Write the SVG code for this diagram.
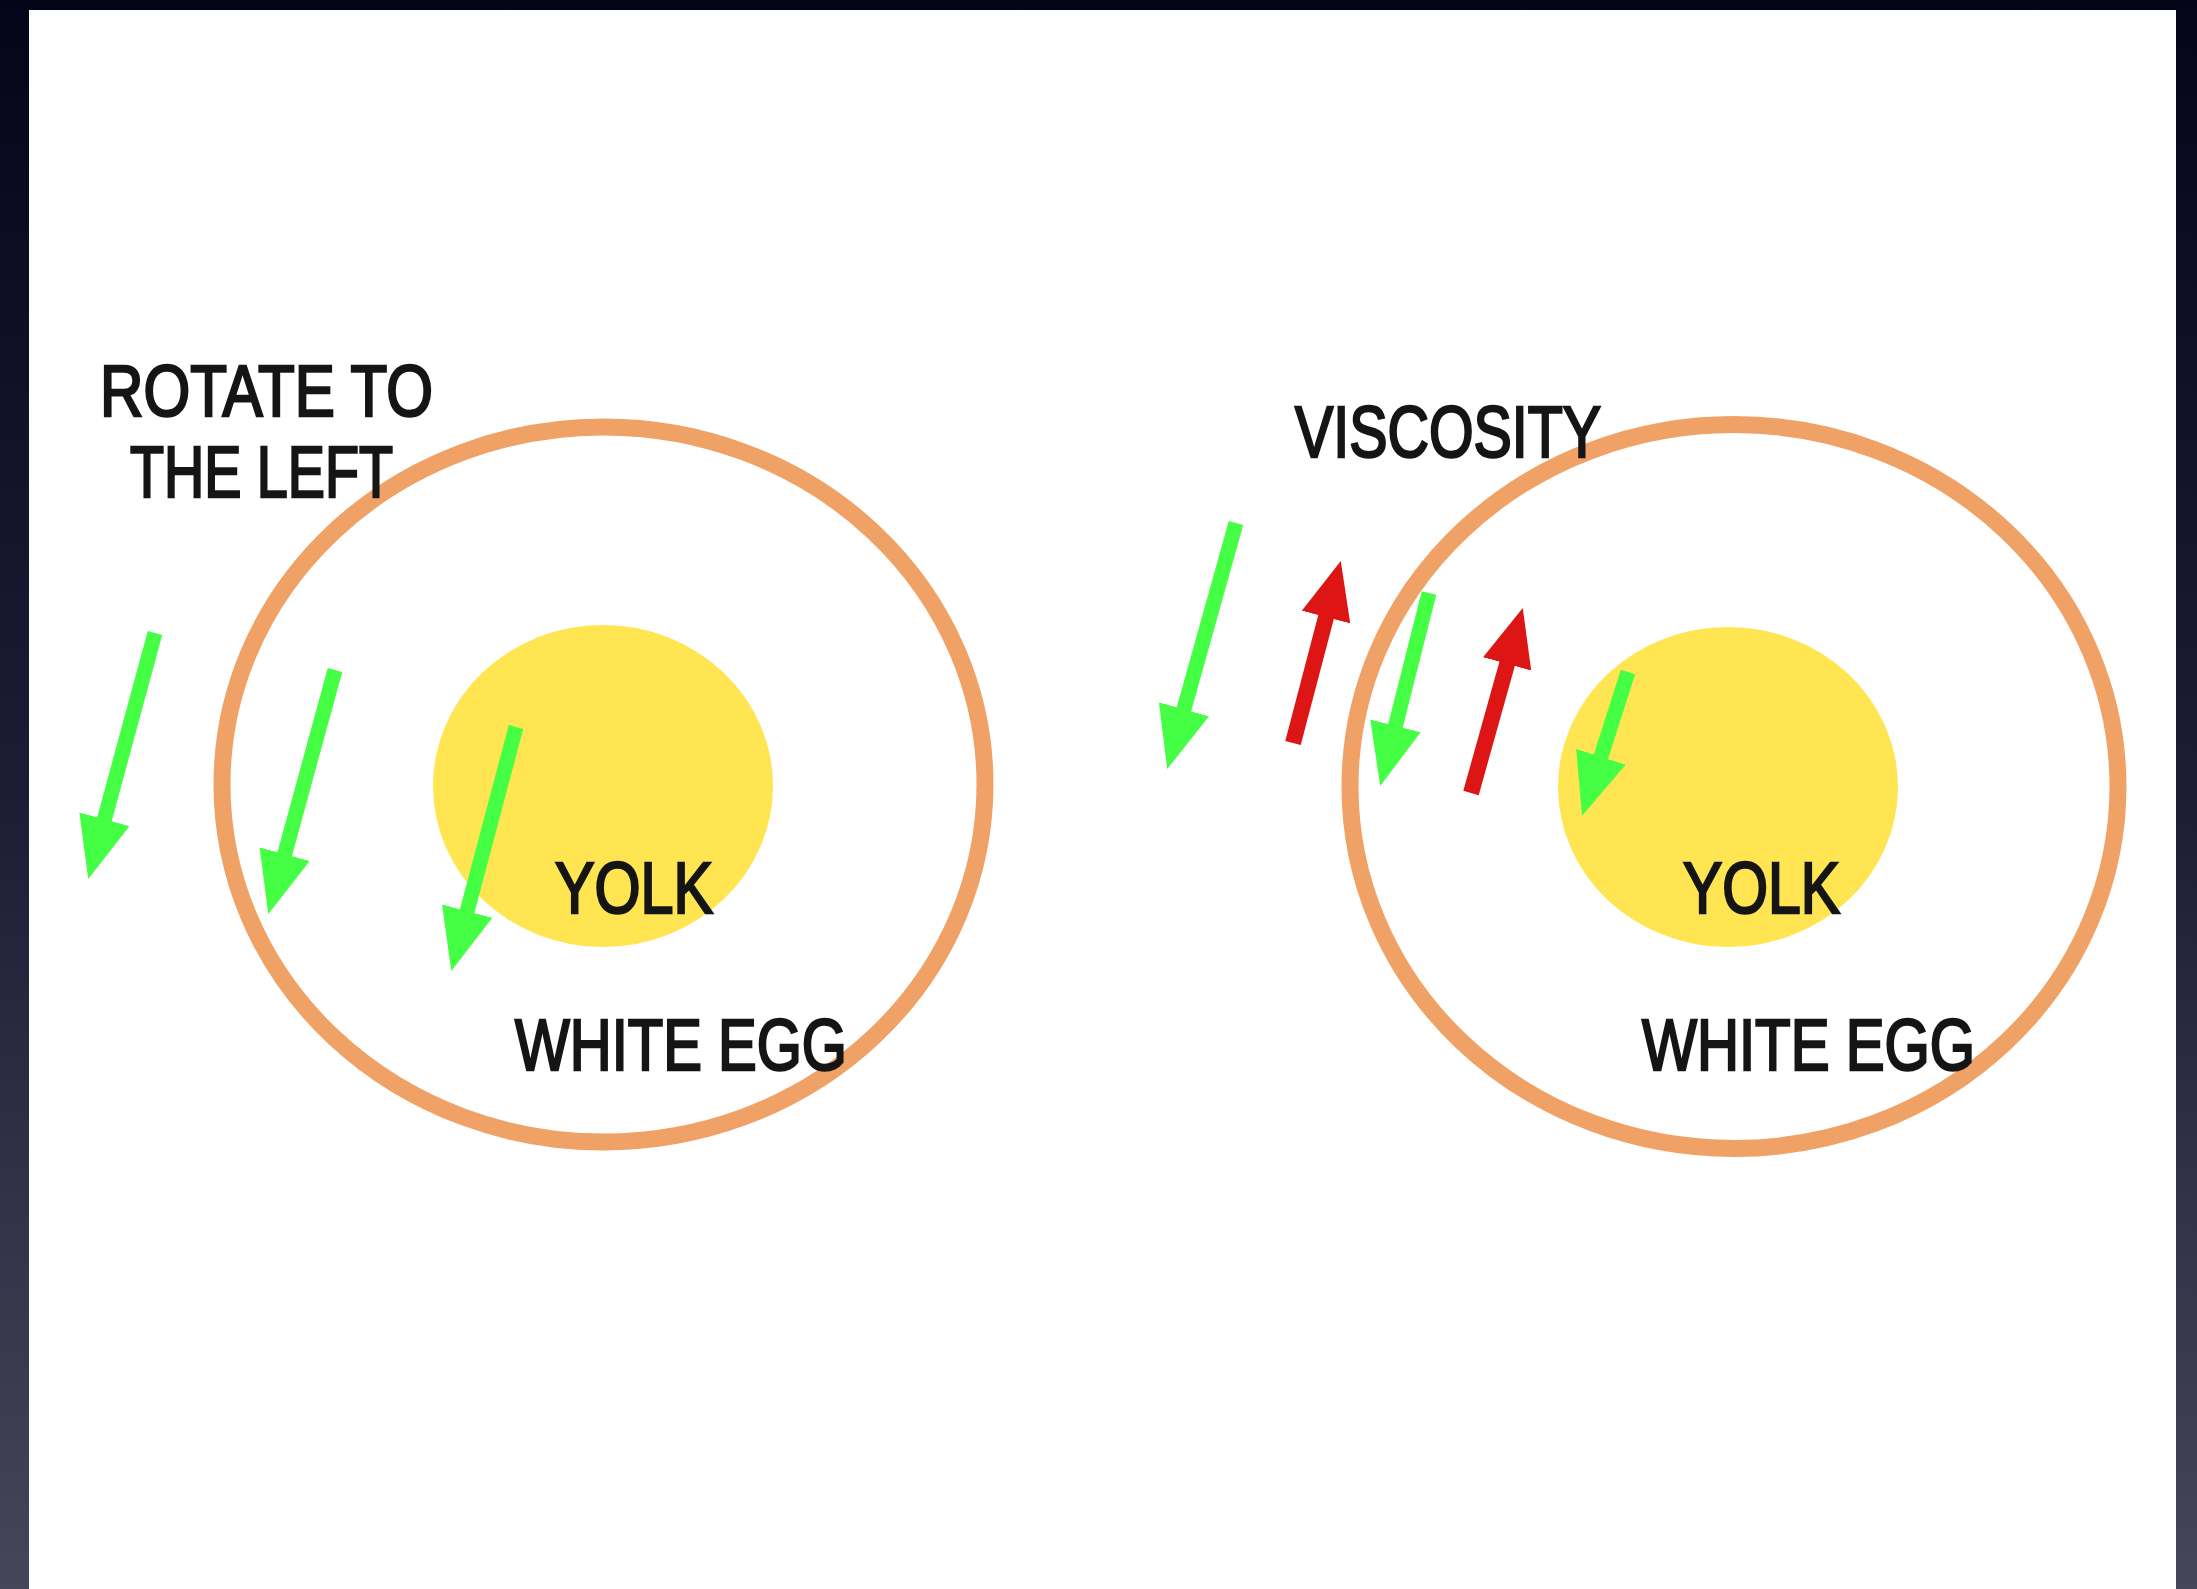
<svg xmlns="http://www.w3.org/2000/svg" width="2197" height="1589" viewBox="0 0 2197 1589">
  <defs>
    <linearGradient id="frame" x1="0" y1="0" x2="0" y2="1">
      <stop offset="0" stop-color="#05051a"/>
      <stop offset="0.5" stop-color="#1c1c34"/>
      <stop offset="1" stop-color="#46465a"/>
    </linearGradient>
    <marker id="headG" markerUnits="userSpaceOnUse" viewBox="0 -26 62 52" markerWidth="62" markerHeight="52" refX="1" refY="0" orient="auto">
      <path d="M0,-26 L62,0 L0,26 z" fill="#44ff44"/>
    </marker>
    <marker id="headR" markerUnits="userSpaceOnUse" viewBox="0 -25 58 50" markerWidth="58" markerHeight="50" refX="1" refY="0" orient="auto">
      <path d="M0,-25 L58,0 L0,25 z" fill="#dd1515"/>
    </marker>
  </defs>
  <style>
    .shell { fill: none; stroke: #f0a266; stroke-width: 17; }
    .yolk { fill: #ffe552; }
    .lbl { font-family: "Liberation Sans", Arial, sans-serif; font-size: 72px; font-weight: normal; fill: #151515; stroke: #151515; stroke-width: 2.5; }
    .g { stroke: #44ff44; stroke-width: 15; fill: none; marker-end: url(#headG); }
    .r { stroke: #dd1515; stroke-width: 16; fill: none; marker-end: url(#headR); }
  </style>
  <rect x="0" y="0" width="2197" height="1589" fill="url(#frame)"/>
  <rect x="29" y="10" width="2147" height="1579" fill="#ffffff"/>

  <g id="egg-left">
    <ellipse class="shell" cx="603.5" cy="784.5" rx="381.5" ry="357.5"/>
    <ellipse id="yolk-left" class="yolk" cx="603" cy="786" rx="170" ry="161"/>
    <text class="lbl" x="555" y="913" textLength="158" lengthAdjust="spacingAndGlyphs">YOLK</text>
    <text class="lbl" x="515" y="1070" textLength="332" lengthAdjust="spacingAndGlyphs">WHITE EGG</text>
  </g>

  <g id="egg-right">
    <ellipse class="shell" cx="1734" cy="786.5" rx="384" ry="362"/>
    <ellipse id="yolk-right" class="yolk" cx="1728" cy="787" rx="170" ry="160"/>
    <text class="lbl" x="1683" y="913" textLength="157" lengthAdjust="spacingAndGlyphs">YOLK</text>
    <text class="lbl" x="1642" y="1070" textLength="333" lengthAdjust="spacingAndGlyphs">WHITE EGG</text>
  </g>

  <g id="label-rotate">
    <text class="lbl" x="100" y="416" textLength="333" lengthAdjust="spacingAndGlyphs">ROTATE TO</text>
    <text class="lbl" x="130" y="497" textLength="263" lengthAdjust="spacingAndGlyphs">THE LEFT</text>
  </g>

  <g id="label-viscosity">
    <text class="lbl" x="1295" y="457" textLength="306" lengthAdjust="spacingAndGlyphs">VISCOSITY</text>
  </g>

  <g id="arrows">
    <line class="g" x1="155" y1="633" x2="104.2" y2="820.2"/>
    <line class="g" x1="335" y1="670" x2="284.4" y2="855.2"/>
    <line class="g" x1="516" y1="727" x2="466.9" y2="912.1"/>
    <line class="g" x1="1236" y1="523" x2="1183.7" y2="710.3"/>
    <line class="r" x1="1293" y1="743" x2="1326.3" y2="616.1"/>
    <line class="g" x1="1429" y1="593" x2="1395.2" y2="726.8"/>
    <line class="r" x1="1471" y1="793" x2="1507.4" y2="662.9"/>
    <line class="g" x1="1628" y1="672" x2="1600.6" y2="757.7"/>
  </g>
</svg>
